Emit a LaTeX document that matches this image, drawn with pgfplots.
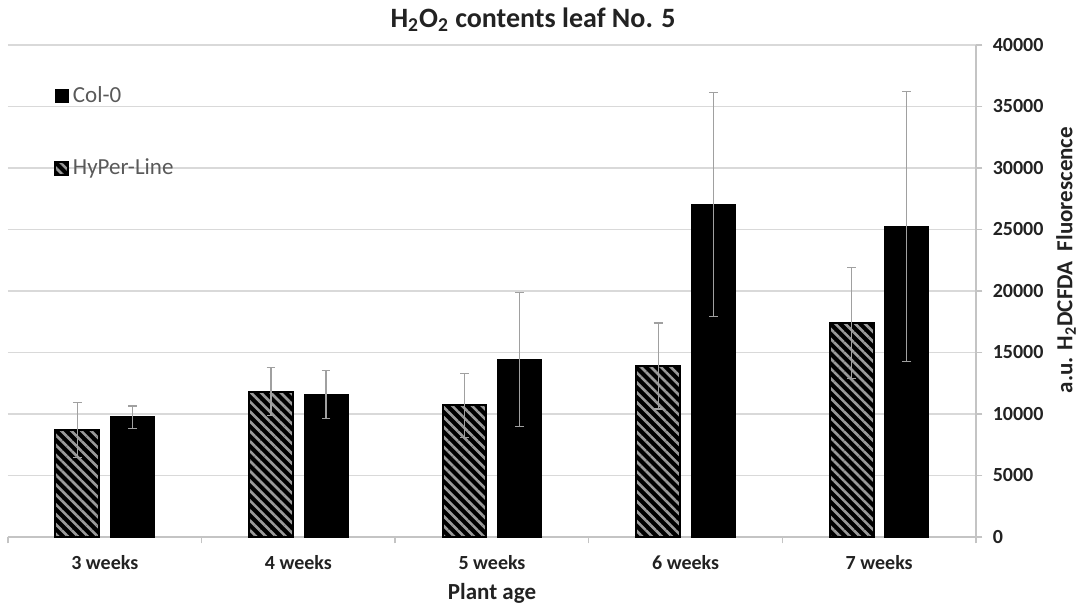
\documentclass[border=0pt]{standalone}
\usepackage{fontspec}
\setmainfont{Carlito}
\usepackage{pgfplots}
\pgfplotsset{compat=1.18}
\usetikzlibrary{patterns.meta}
\definecolor{gridc}{HTML}{D9D9D9}
\definecolor{axisc}{HTML}{C4C4C4}
\definecolor{tickc}{HTML}{222222}
\definecolor{legc}{HTML}{595959}
\definecolor{errc}{HTML}{A0A0A0}
\definecolor{stripec}{HTML}{9A9A9A}
\pgfplotsset{sqlegend/.style={legend image code/.code={\draw[##1] (0pt,-3.25pt) rectangle (6.5pt,3.25pt);}}}
\begin{document}
\begin{tikzpicture}
\useasboundingbox (-4pt,-35pt) rectangle (537.5pt,268.5pt);
\begin{axis}[
  at={(0,0)}, anchor=south west,
  scale only axis, width=484pt, height=246pt,
  xmin=-0.5, xmax=4.5, ymin=0, ymax=40000,
  axis x line*=bottom, axis y line*=right,
  axis line style={draw=axisc, line width=0.7pt},
  tick align=outside,
  xtick={-0.5,0.5,1.5,2.5,3.5,4.5}, xticklabels={},
  extra x ticks={0,1,2,3,4},
  extra x tick labels={3 weeks,4 weeks,5 weeks,6 weeks,7 weeks},
  extra x tick style={major tick length=0pt},
  x tick style={draw=axisc, line width=0.7pt},
  major tick length=3.2pt,
  ytick={0,5000,...,40000},
  y tick style={draw=axisc, line width=0.7pt},
  ymajorgrids, grid style={draw=gridc, line width=0.7pt},
  scaled y ticks=false,
  /pgf/number format/1000 sep={},
  /pgf/number format/assume math mode=true,
  xticklabel style={font=\fontsize{10}{12}\selectfont\bfseries, text=tickc, anchor=base, yshift=-16pt},
  yticklabel style={font=\fontsize{10}{12}\selectfont\bfseries, text=tickc, anchor=west, inner sep=0pt, xshift=5pt},
  xlabel={Plant age},
  xlabel style={font=\fontsize{11.5}{13}\selectfont\bfseries, text=tickc, at={(axis description cs:0.5,-0.126)}, anchor=base},
  ylabel={a.u. H\textsubscript{2}DCFDA\ \ Fluorescence},
  ylabel style={font=\fontsize{11.5}{13}\selectfont\bfseries, text=tickc, at={(axis description cs:1.093,0.563)}, anchor=center, rotate=0},
  every axis title shift=0pt,
  title={H\textsubscript{2}O\textsubscript{2} contents leaf No. 5},
  title style={font=\fontsize{14}{16}\selectfont\bfseries, text=tickc, at={(axis description cs:0.5424,1.0366)}, anchor=base},
  reverse legend,
  legend style={at={(axis description cs:0.0475,0.923)}, anchor=north west, draw=none, fill=none,
    inner sep=0pt, row sep=23pt, font=\fontsize{11.5}{13}\selectfont, text=legc, cells={anchor=west},
    nodes={inner sep=1.8pt}},
]
\addplot[ybar, sqlegend, bar width=0.226, bar shift=0pt, fill=black, draw=black, line width=1pt,
  postaction={pattern={Lines[angle=-45,distance=3.5pt,line width=1.3pt]}, pattern color=stripec},
  error bars/.cd, y dir=both, y explicit,
  error bar style={draw=errc, line width=0.6pt},
  error mark options={draw=errc, line width=0.6pt, mark size=2.2pt, rotate=90}]
  coordinates {
  (-0.142,8700) +- (0,2250)
  (0.858,11800) +- (0,1950)
  (1.858,10700) +- (0,2600)
  (2.858,13900) +- (0,3500)
  (3.858,17400) +- (0,4500)
  };
\addlegendentry{HyPer-Line}
\addplot[ybar, sqlegend, bar width=0.226, bar shift=0pt, fill=black, draw=black, line width=0.6pt,
  error bars/.cd, y dir=both, y explicit,
  error bar style={draw=errc, line width=0.6pt},
  error mark options={draw=errc, line width=0.6pt, mark size=2.2pt, rotate=90}]
  coordinates {
  (0.143,9750) +- (0,900)
  (1.143,11600) +- (0,1950)
  (2.143,14450) +- (0,5450)
  (3.143,27050) +- (0,9100)
  (4.143,25250) +- (0,10950)
  };
\addlegendentry{Col-0}
\end{axis}
\end{tikzpicture}
\end{document}
